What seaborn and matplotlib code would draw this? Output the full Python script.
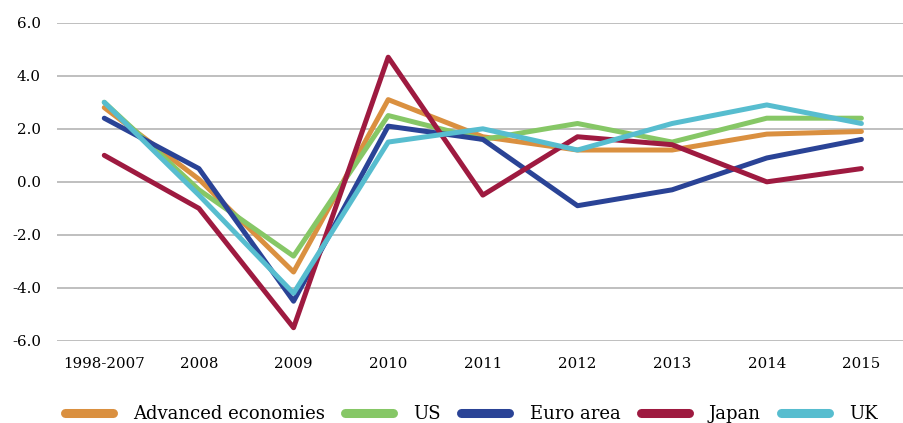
import numpy as np
import pandas as pd
import seaborn as sns
import matplotlib.pyplot as plt
from matplotlib.lines import Line2D

periods = ['1998-2007', '2008', '2009', '2010', '2011', '2012', '2013', '2014', '2015']
advanced = [2.8, 0.1, -3.4, 3.1, 1.7, 1.2, 1.2, 1.8, 1.9]
us = [3.0, -0.3, -2.8, 2.5, 1.6, 2.2, 1.5, 2.4, 2.4]
euro_area = [2.4, 0.5, -4.5, 2.1, 1.6, -0.9, -0.3, 0.9, 1.6]
japan = [1.0, -1.0, -5.5, 4.7, -0.5, 1.7, 1.4, 0.0, 0.5]
uk = [3.0, -0.5, -4.2, 1.5, 2.0, 1.2, 2.2, 2.9, 2.2]

series = {
    'Advanced economies': advanced,
    'US': us,
    'Euro area': euro_area,
    'Japan': japan,
    'UK': uk,
}
palette = {
    'Advanced economies': '#DA9040',
    'US': '#86C766',
    'Euro area': '#2A4396',
    'Japan': '#9E1A40',
    'UK': '#57BDCF',
}

df = pd.DataFrame([
    {'period': p, 'growth': v, 'region': name}
    for name, vals in series.items()
    for p, v in zip(periods, vals)
])

sns.set_style('white')
plt.rcParams['font.family'] = ['DejaVu Serif']

fig = plt.figure(figsize=(9.04, 4.23), dpi=100)
ax = fig.add_axes([0.063, 0.1939, 0.937, 0.7524])

sns.lineplot(data=df, x='period', y='growth', hue='region', palette=palette,
             hue_order=list(series.keys()), sort=False, linewidth=3.6,
             legend=False, ax=ax)
for line in ax.lines:
    line.set_solid_capstyle('round')

ax.set_ylim(-6, 6)
ax.set_xlim(-0.5, 8.45)
ax.set_yticks(np.arange(-6, 7, 2))
ax.set_yticklabels([f'{v:.1f}' for v in np.arange(-6, 7, 2)])
ax.yaxis.grid(True, color='#ADADAD', linewidth=1.1)
ax.set_axisbelow(True)
ax.tick_params(axis='both', length=0, labelsize=10.8, labelcolor='black')
ax.tick_params(axis='x', pad=11.5)
ax.tick_params(axis='y', pad=11.5)
ax.set_xlabel('')
ax.set_ylabel('')
sns.despine(ax=ax, left=True, bottom=True)

handles = [Line2D([0], [0], color=palette[n], linewidth=6.5, solid_capstyle='round')
           for n in series]
fig.legend(handles, list(series.keys()), loc='center', bbox_to_anchor=(0.5216, 0.0213),
           ncol=5, frameon=False, fontsize=13, handlelength=2.66, handletextpad=1.12,
           columnspacing=1.12, borderpad=0, labelcolor='black')

fig.savefig('out.png', dpi=100)
